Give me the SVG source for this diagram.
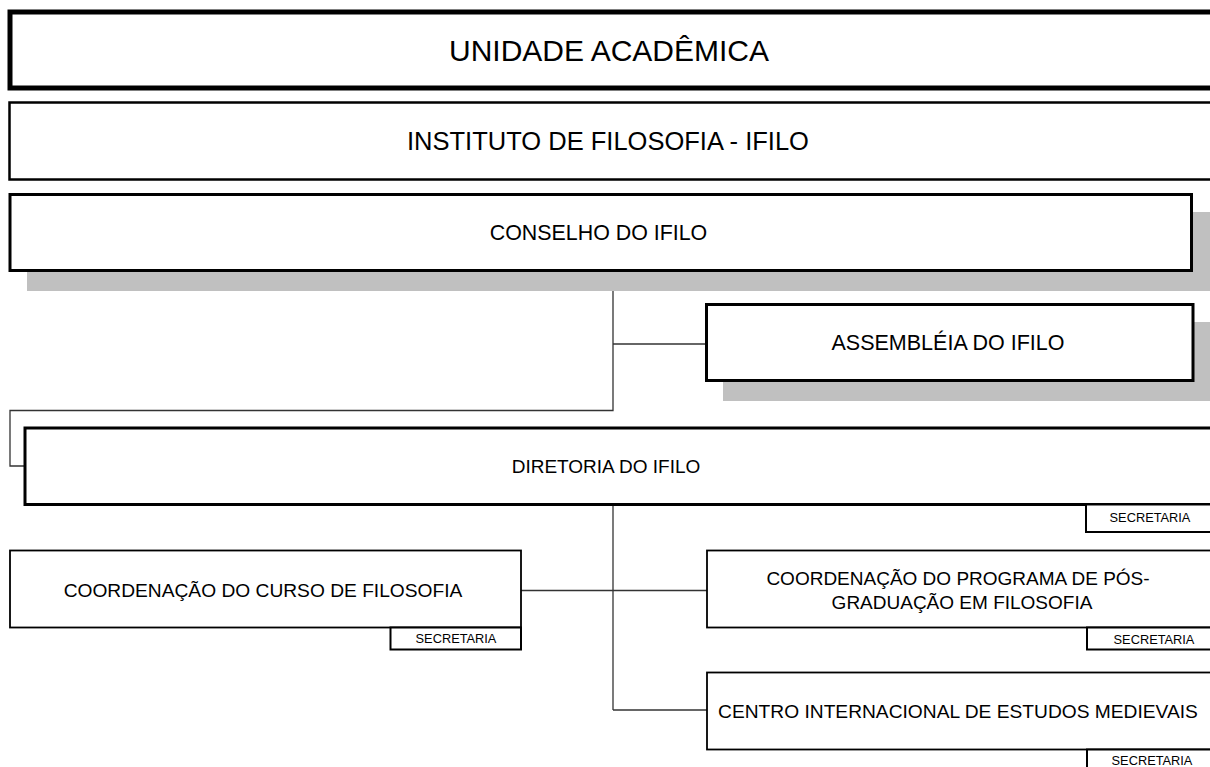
<svg xmlns="http://www.w3.org/2000/svg" width="1210" height="767" viewBox="0 0 1210 767">
<style>
text{font-family:"Liberation Sans",Arial,sans-serif;fill:#000;text-anchor:middle}
.box{fill:#fff;stroke:#000}
.shadow{fill:#c0c0c0;stroke:none}
.conn{fill:none;stroke:#333;stroke-width:1.3}
.sec{fill:#fff;stroke:#000;stroke-width:2}
.sect{font-size:12.8px}
.t19{font-size:19.2px}
</style>
<rect width="1210" height="767" fill="#fff"/>
<g id="connectors">
<polyline class="conn" points="613,271 613,410.5 10,410.5 10,466 25,466"/>
<line class="conn" x1="613" y1="344" x2="707" y2="344"/>
<line class="conn" x1="613" y1="505" x2="613" y2="710"/>
<line class="conn" x1="613" y1="710" x2="707" y2="710"/>
<line class="conn" x1="521" y1="590.5" x2="707" y2="590.5"/>
</g>
<g id="unidade">
<rect class="box" x="10" y="12" width="1210" height="76" stroke-width="5"/>
<text x="609" y="61" font-size="30">UNIDADE ACADÊMICA</text>
</g>
<g id="instituto">
<rect class="box" x="9.5" y="102.5" width="1210" height="77" stroke-width="2.5"/>
<text x="608" y="150" font-size="25.5">INSTITUTO DE FILOSOFIA - IFILO</text>
</g>
<g id="conselho">
<rect class="shadow" x="27" y="212" width="1190" height="79"/>
<rect class="box" x="10" y="194.5" width="1181.5" height="76" stroke-width="3"/>
<text x="598.5" y="240" font-size="21.4">CONSELHO DO IFILO</text>
</g>
<g id="assembleia">
<rect class="shadow" x="723" y="322" width="490" height="79"/>
<rect class="box" x="706.5" y="304.5" width="486.5" height="76" stroke-width="3"/>
<text x="948" y="350" font-size="21.5">ASSEMBLÉIA DO IFILO</text>
</g>
<g id="diretoria">
<rect class="box" x="25" y="428" width="1200" height="76.5" stroke-width="3"/>
<text x="606" y="473" font-size="19">DIRETORIA DO IFILO</text>
</g>
<g id="secretaria-diretoria">
<rect class="sec" x="1086" y="504.5" width="130" height="27.5"/>
<text x="1150" y="522" class="sect">SECRETARIA</text>
</g>
<g id="curso">
<rect class="box" x="10" y="550.5" width="511" height="77" stroke-width="1.8"/>
<text x="263" y="597" class="t19">COORDENAÇÃO DO CURSO DE FILOSOFIA</text>
</g>
<g id="secretaria-curso">
<rect class="sec" x="390.5" y="627.5" width="130.5" height="22"/>
<text x="456" y="643" class="sect">SECRETARIA</text>
</g>
<g id="pos">
<rect class="box" x="707" y="550.5" width="510" height="77" stroke-width="1.8"/>
<text x="958" y="585" font-size="19">COORDENAÇÃO DO PROGRAMA DE PÓS-</text>
<text x="962" y="609" font-size="19">GRADUAÇÃO EM FILOSOFIA</text>
</g>
<g id="secretaria-pos">
<rect class="sec" x="1087" y="627.5" width="130" height="22"/>
<text x="1154" y="644" class="sect">SECRETARIA</text>
</g>
<g id="centro">
<rect class="box" x="707" y="672.5" width="510" height="77" stroke-width="1.8"/>
<text x="958" y="718" class="t19">CENTRO INTERNACIONAL DE ESTUDOS MEDIEVAIS</text>
</g>
<g id="secretaria-centro">
<rect class="sec" x="1087" y="749.5" width="130" height="30"/>
<text x="1152" y="765" class="sect">SECRETARIA</text>
</g>
</svg>
